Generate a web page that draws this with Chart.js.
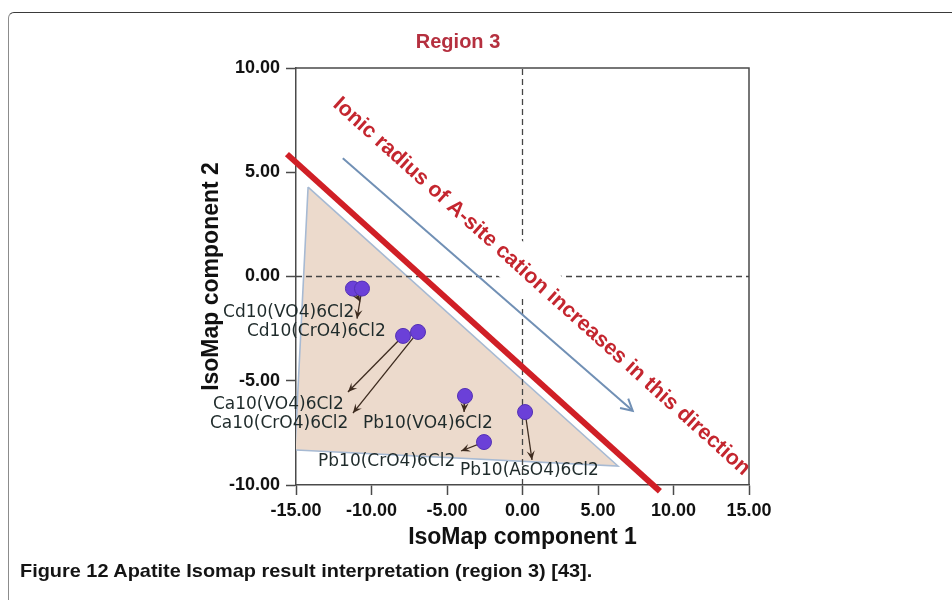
<!DOCTYPE html>
<html>
<head>
<meta charset="utf-8">
<script src="https://cdn.jsdelivr.net/npm/chart.js@4.4.1/dist/chart.umd.min.js"></script>
<style>
  html, body { margin: 0; padding: 0; background: #fff; }
  #wrap { position: relative; width: 952px; height: 600px; overflow: hidden; }
  #frame {
    position: absolute; left: 8px; top: 12px; width: 980px; height: 640px;
    border-top: 1.5px solid #3a3a3a; border-left: 1.5px solid #8c8c8c;
    border-top-left-radius: 6px;
  }
  canvas { position: absolute; left: 0; top: 0; }
  #caption {
    position: absolute; left: 20px; top: 560px; white-space: nowrap;
    font: bold 19px "Liberation Sans Narrow", "Liberation Sans", sans-serif;
    color: #141414; transform-origin: 0 0;
  }
</style>
</head>
<body>
<div id="wrap">
  <div id="frame"></div>
  <canvas id="chart" width="952" height="600"></canvas>
  <div id="caption">Figure 12 Apatite Isomap result interpretation (region 3) [43].</div>
</div>
<script>
// values (IsoMap units)
const compounds = ['Cd10(VO4)6Cl2', 'Cd10(CrO4)6Cl2', 'Ca10(VO4)6Cl2', 'Ca10(CrO4)6Cl2',
                   'Pb10(VO4)6Cl2', 'Pb10(CrO4)6Cl2', 'Pb10(AsO4)6Cl2']
const pointX = [-11.23, -10.63, -7.91, -6.92, -3.81, -2.55, 0.17]
const pointY = [-0.58, -0.58, -2.85, -2.66, -5.73, -7.94, -6.50]
const arrowToX = [-10.76, -10.96, -11.56, -11.23, -3.87, -4.07, 0.63]
const arrowToY = [-1.20, -2.02, -5.54, -6.55, -6.50, -8.37, -8.80]
const regionX = [-14.2, -15.07, 6.32]
const regionY = [4.29, -8.32, -9.09]
const boundaryX = [-15.6, 9.1]
const boundaryY = [5.87, -10.3]
const trendX = [-11.9, 7.3]
const trendY = [5.67, -6.44]
const xTicks = [-15, -10, -5, 0, 5, 10, 15]
const yTicks = [-10, -5, 0, 5, 10]

// where the compound names sit (left edge, middle), in axis units
const labelAt = [
  [-19.83, -1.75], [-18.25, -2.62], [-20.50, -6.12], [-20.70, -7.07],
  [-10.56, -7.07], [-13.54, -8.90], [-4.14, -9.33]
]
const ionicText = 'Ionic radius of A-site cation increases in this direction'
const ionicAt = { x: 1.26, y: -0.48, angle: 42 }
const ionicFont = 'bold 21.5px "Liberation Sans", Arial, sans-serif'

const pts = (xs, ys) => xs.map((x, i) => ({ x, y: ys[i] }))

Chart.defaults.font.family = '"Liberation Sans", Arial, sans-serif'
Chart.defaults.color = '#111'

function ionicCorners(chart, padAlong, half) {
  const { ctx, scales } = chart
  ctx.save()
  ctx.font = ionicFont
  const w = ctx.measureText(ionicText).width
  ctx.restore()
  const cx = scales.x.getPixelForValue(ionicAt.x)
  const cy = scales.y.getPixelForValue(ionicAt.y)
  const a = ionicAt.angle * Math.PI / 180
  const ux = Math.cos(a), uy = Math.sin(a), nx = -uy, ny = ux
  const L = w / 2 + padAlong
  return [[-L, -half], [L, -half], [L, half], [-L, half]].map(([s, t]) => ({
    x: cx + ux * s + nx * t, y: cy + uy * s + ny * t
  }))
}

function arrowHead(ctx, p0, p1, len, spread, color, width, filled) {
  const a = Math.atan2(p1.y - p0.y, p1.x - p0.x)
  ctx.save()
  ctx.strokeStyle = color
  ctx.fillStyle = color
  ctx.lineWidth = width
  ctx.lineJoin = 'miter'
  ctx.beginPath()
  ctx.moveTo(p1.x - len * Math.cos(a - spread), p1.y - len * Math.sin(a - spread))
  ctx.lineTo(p1.x, p1.y)
  ctx.lineTo(p1.x - len * Math.cos(a + spread), p1.y - len * Math.sin(a + spread))
  if (filled) {
    ctx.lineTo(p1.x - len * 0.55 * Math.cos(a), p1.y - len * 0.55 * Math.sin(a))
    ctx.closePath()
    ctx.fill()
  } else {
    ctx.stroke()
  }
  ctx.restore()
}

const extras = {
  id: 'figureExtras',
  beforeDatasetsDraw(chart) {
    const { ctx, chartArea: a } = chart
    ctx.save()
    ctx.strokeStyle = '#4a4a4a'
    ctx.lineWidth = 1.5
    ctx.beginPath()
    ctx.moveTo(a.left, a.top)
    ctx.lineTo(a.right, a.top)
    ctx.lineTo(a.right, a.bottom)
    ctx.stroke()
    ctx.restore()
  },
  beforeDatasetDraw(chart, args) {
    const ds = chart.data.datasets[args.index]
    if (!ds.gapForText) return
    const { ctx } = chart
    const c = ionicCorners(chart, 4, 21)
    ctx.save()
    ctx.beginPath()
    ctx.rect(0, 0, chart.width, chart.height)
    ctx.moveTo(c[0].x, c[0].y)
    for (let i = 1; i < 4; i++) ctx.lineTo(c[i].x, c[i].y)
    ctx.closePath()
    ctx.clip('evenodd')
  },
  afterDatasetDraw(chart, args) {
    const ds = chart.data.datasets[args.index]
    if (ds.gapForText) chart.ctx.restore()
    if (ds.arrow) {
      const els = args.meta.data
      const h = ds.arrow
      arrowHead(chart.ctx, els[els.length - 2], els[els.length - 1], h.len, h.spread, ds.borderColor, h.width, h.filled)
    }
  },
  afterDatasetsDraw(chart) {
    const { ctx, scales } = chart
    const xs = scales.x, ys = scales.y

    // compound names
    ctx.save()
    ctx.font = '17px "DejaVu Sans", Verdana, sans-serif'
    ctx.fillStyle = '#1f2b2b'
    ctx.textAlign = 'left'
    ctx.textBaseline = 'middle'
    compounds.forEach((name, i) => {
      ctx.fillText(name, xs.getPixelForValue(labelAt[i][0]), ys.getPixelForValue(labelAt[i][1]))
    })
    ctx.restore()

    // diagonal note
    ctx.save()
    ctx.translate(xs.getPixelForValue(ionicAt.x), ys.getPixelForValue(ionicAt.y))
    ctx.rotate(ionicAt.angle * Math.PI / 180)
    ctx.font = ionicFont
    ctx.fillStyle = '#c4262f'
    ctx.textAlign = 'center'
    ctx.textBaseline = 'middle'
    ctx.fillText(ionicText, 0, 0)
    ctx.restore()

    // panel heading
    ctx.save()
    ctx.font = 'bold 20px "Liberation Sans", Arial, sans-serif'
    ctx.fillStyle = '#b5303f'
    ctx.textAlign = 'center'
    ctx.textBaseline = 'middle'
    ctx.fillText('Region 3', xs.getPixelForValue(-4.27), ys.getPixelForValue(11.2))
    ctx.restore()
  }
}

const fmt = v => Number(v).toFixed(2)

new Chart(document.getElementById('chart'), {
  type: 'scatter',
  data: {
    datasets: [
      {
        data: pts(pointX, pointY),
        pointRadius: 7.5,
        pointHoverRadius: 7.5,
        pointBackgroundColor: '#6b40d8',
        pointBorderColor: '#5431b5',
        pointBorderWidth: 1
      },
      ...compounds.map((c, i) => ({
        data: pts([pointX[i], arrowToX[i]], [pointY[i], arrowToY[i]]),
        showLine: true,
        pointRadius: 0,
        borderColor: '#3d2b1f',
        borderWidth: 1.3,
        arrow: { len: 10, spread: 0.42, width: 1.3, filled: true }
      })),
      {
        data: pts(boundaryX, boundaryY),
        showLine: true,
        pointRadius: 0,
        borderColor: '#d01f26',
        borderWidth: 6,
        clip: false
      },
      {
        data: pts(trendX, trendY),
        showLine: true,
        pointRadius: 0,
        borderColor: '#7190b5',
        borderWidth: 2,
        arrow: { len: 13, spread: 0.5, width: 2, filled: false }
      },
      {
        data: [{ x: 0, y: -10 }, { x: 0, y: 10 }],
        showLine: true,
        pointRadius: 0,
        borderColor: '#444',
        borderWidth: 1.3,
        borderDash: [6, 4],
        gapForText: true
      },
      {
        data: [{ x: -15, y: 0 }, { x: 15, y: 0 }],
        showLine: true,
        pointRadius: 0,
        borderColor: '#444',
        borderWidth: 1.3,
        borderDash: [6, 4],
        gapForText: true
      },
      {
        data: pts(regionX.concat(regionX[0]), regionY.concat(regionY[0])),
        showLine: true,
        pointRadius: 0,
        borderColor: '#a7bad3',
        borderWidth: 1.6,
        backgroundColor: '#ecdacc',
        fill: 'shape'
      }
    ]
  },
  options: {
    responsive: false,
    animation: false,
    events: [],
    layout: { padding: { left: 190, right: 203, top: 68, bottom: 49 } },
    plugins: {
      legend: { display: false },
      tooltip: { enabled: false }
    },
    scales: {
      x: {
        type: 'linear',
        min: -15,
        max: 15,
        afterBuildTicks: s => { s.ticks = xTicks.map(v => ({ value: v })) },
        afterFit: s => { s.height = 66 },
        border: { color: '#4a4a4a', width: 1.5 },
        grid: { drawOnChartArea: false, tickLength: 10, color: '#4a4a4a', tickWidth: 1.5 },
        ticks: { padding: 5, maxRotation: 0, font: { size: 18, weight: 'bold' }, color: '#111', callback: fmt },
        title: {
          display: true,
          text: 'IsoMap component 1',
          font: { size: 23, weight: 'bold' },
          color: '#111',
          padding: { top: 0, bottom: 0 }
        }
      },
      y: {
        type: 'linear',
        min: -10,
        max: 10,
        afterBuildTicks: s => { s.ticks = yTicks.map(v => ({ value: v })) },
        afterFit: s => { s.width = 106 },
        border: { color: '#4a4a4a', width: 1.5 },
        grid: { drawOnChartArea: false, tickLength: 10, color: '#4a4a4a', tickWidth: 1.5 },
        ticks: { padding: 6, font: { size: 18, weight: 'bold' }, color: '#111', callback: fmt },
        title: {
          display: true,
          text: 'IsoMap component 2',
          font: { size: 23, weight: 'bold' },
          color: '#111',
          padding: { top: 8, bottom: 0 }
        }
      }
    }
  },
  plugins: [extras]
})

// squeeze the caption to the width it has in the figure
const cap = document.getElementById('caption')
cap.style.transform = 'scaleX(' + (572 / cap.offsetWidth) + ')'
</script>
</body>
</html>
